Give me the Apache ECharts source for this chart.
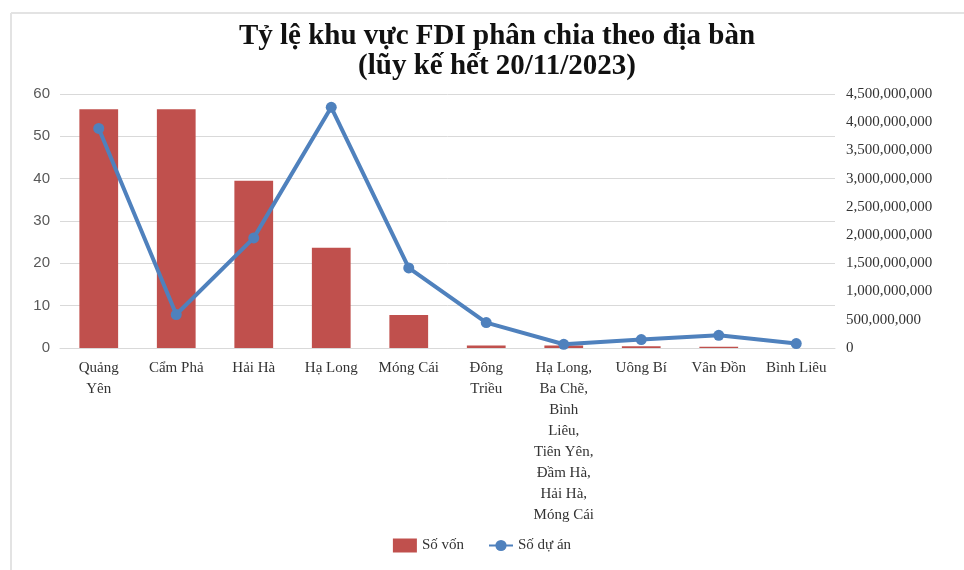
<!DOCTYPE html>
<html>
<head>
<meta charset="utf-8">
<script src="https://cdn.jsdelivr.net/npm/echarts@6/dist/echarts.min.js"></script>
<style>html,body{margin:0;padding:0;background:#fff}#c{width:964px;height:570px}</style>
</head>
<body>
<div id="c"></div>
<script>
const titleLines = ['Tỷ lệ khu vực FDI phân chia theo địa bàn', '(lũy kế hết 20/11/2023)'];
const categories = ['Quảng\nYên', 'Cẩm Phả', 'Hải Hà', 'Hạ Long', 'Móng Cái', 'Đông\nTriều',
  'Hạ Long,\nBa Chẽ,\nBình\nLiêu,\nTiên Yên,\nĐầm Hà,\nHải Hà,\nMóng Cái', 'Uông Bí', 'Vân Đồn', 'Bình Liêu'];
const seriesNames = ['Số vốn', 'Số dự án'];
const soVon = [56.4, 56.4, 39.5, 23.7, 7.8, 0.6, 0.6, 0.4, 0.3, 0];
const soDuAn = [3890000000, 593000000, 1951000000, 4264000000, 1419000000, 450000000, 66000000, 149000000, 225000000, 78000000];

const chart = echarts.init(document.getElementById('c'), null, {renderer: 'canvas'});
const serif = '"Liberation Serif", "Times New Roman", serif';
const sans = '"Liberation Sans", Arial, sans-serif';
chart.setOption({
  animation: false,
  backgroundColor: '#ffffff',
  graphic: [
    {type: 'line', shape: {x1: 11, y1: 13, x2: 964, y2: 13}, style: {stroke: '#e3e3e3', lineWidth: 2}, silent: true},
    {type: 'line', shape: {x1: 11, y1: 13, x2: 11, y2: 570}, style: {stroke: '#e3e3e3', lineWidth: 2}, silent: true}
  ],
  title: {
    text: titleLines.join('\n'),
    left: 492, top: 17, textAlign: 'center',
    textStyle: {fontFamily: serif, fontWeight: 'bold', fontSize: 29, lineHeight: 30, color: '#111'}
  },
  legend: {
    bottom: 12, left: 'center',
    itemGap: 24,
    textStyle: {fontFamily: serif, fontSize: 15, color: '#333'},
    data: [
      {name: seriesNames[0], icon: 'rect', itemStyle: {color: '#C0504D'}},
      {name: seriesNames[1]}
    ],
    itemWidth: 24, itemHeight: 14
  },
  grid: {left: 60, right: 129, top: 94, bottom: 222, containLabel: false},
  xAxis: {
    type: 'category', data: categories,
    axisLine: {show: true, lineStyle: {color: '#d9d9d9', width: 1}},
    axisTick: {show: false},
    axisLabel: {
      interval: 0, fontFamily: serif, fontSize: 15, color: '#333', lineHeight: 21,
      margin: 10, align: 'center'
    }
  },
  yAxis: [
    {
      type: 'value', min: 0, max: 60, interval: 10, position: 'left',
      axisLine: {show: false}, axisTick: {show: false},
      axisLabel: {fontFamily: sans, fontSize: 15, color: '#595959', margin: 10},
      splitLine: {lineStyle: {color: '#d9d9d9', width: 1}}
    },
    {
      type: 'value', min: 0, max: 4500000000, interval: 500000000, position: 'right',
      axisLine: {show: false}, axisTick: {show: false},
      axisLabel: {
        fontFamily: serif, fontSize: 15, color: '#333', margin: 11,
        formatter: v => v.toLocaleString('en-US')
      },
      splitLine: {show: false}
    }
  ],
  series: [
    {
      name: seriesNames[0], type: 'bar', data: soVon, yAxisIndex: 0,
      barWidth: '50%', itemStyle: {color: '#C0504D'}
    },
    {
      name: seriesNames[1], type: 'line', data: soDuAn, yAxisIndex: 1,
      symbol: 'circle', symbolSize: 11,
      lineStyle: {color: '#4F81BD', width: 4},
      itemStyle: {color: '#4F81BD'}
    }
  ]
});
</script>
</body>
</html>
